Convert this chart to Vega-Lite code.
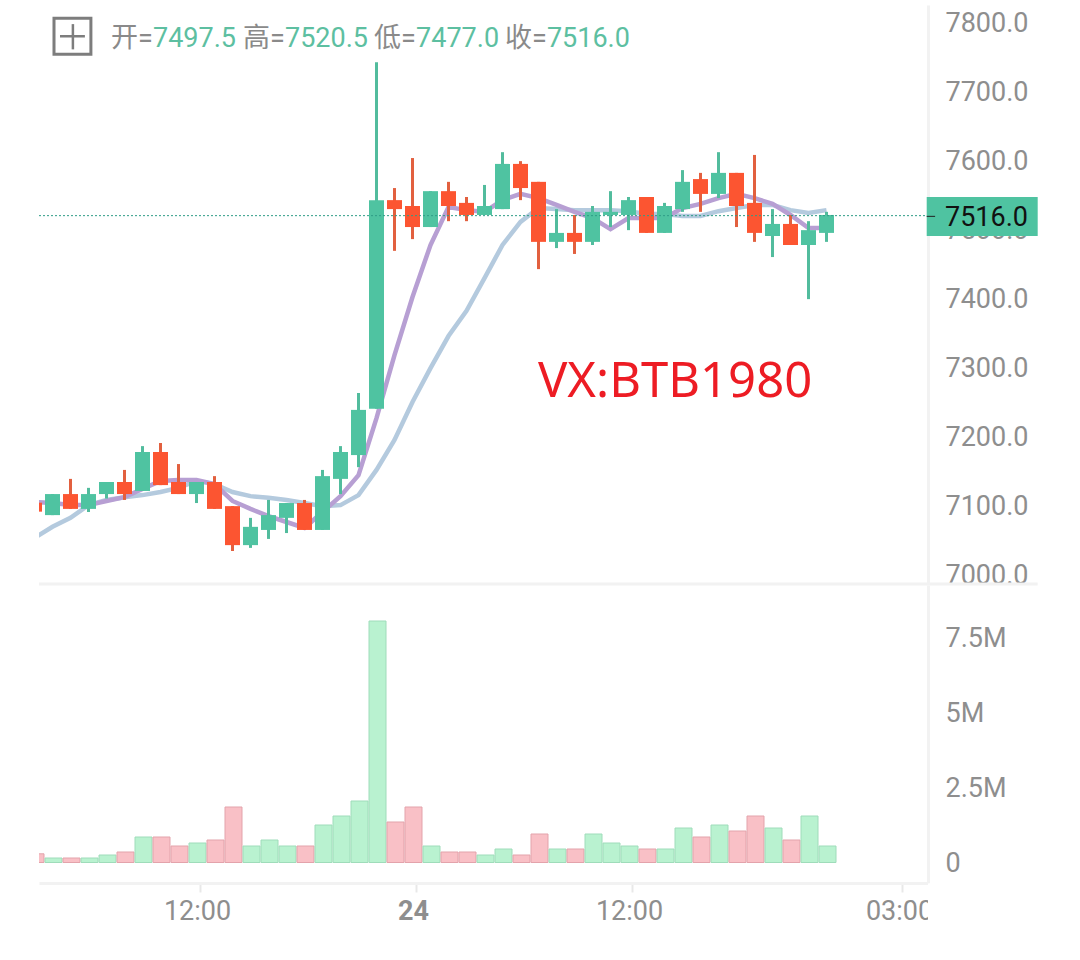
{
"$schema":"https://vega.github.io/schema/vega-lite/v6.json",
"background":"white",
"padding":{"left":37,"top":5,"right":0,"bottom":0},
"spacing":1,
"bounds":"flush",
"config":{"view":{"stroke":null},"axis":{"grid":false,"labelFont":"Roboto","labelFontSize":27,"labelColor":"#8e8e8e","title":null,"domainColor":"#f2f2f2","domainWidth":3}},
"datasets":{
"bars":[
{"t":"2020-03-23T03:00:00Z","dir":"down","open":7099,"high":7099,"low":7086,"close":7086,"ma1":7100,"ma2":7048,"vol":290000},
{"t":"2020-03-23T04:00:00Z","dir":"up","open":7081,"high":7111.5,"low":7081,"close":7111.5,"ma1":7098.5,"ma2":7064,"vol":150000},
{"t":"2020-03-23T05:00:00Z","dir":"down","open":7111.5,"high":7133.5,"low":7090,"close":7090,"ma1":7095.5,"ma2":7077,"vol":150000},
{"t":"2020-03-23T06:00:00Z","dir":"up","open":7090,"high":7120.5,"low":7085.5,"close":7111.5,"ma1":7095.5,"ma2":7095.5,"vol":150000},
{"t":"2020-03-23T07:00:00Z","dir":"up","open":7111.5,"high":7129,"low":7105,"close":7129,"ma1":7101.5,"ma2":7103,"vol":250000},
{"t":"2020-03-23T08:00:00Z","dir":"down","open":7129,"high":7146.5,"low":7103,"close":7111.5,"ma1":7107,"ma2":7107,"vol":350000},
{"t":"2020-03-23T09:00:00Z","dir":"up","open":7116,"high":7181,"low":7116,"close":7172.5,"ma1":7119,"ma2":7110,"vol":850000},
{"t":"2020-03-23T10:00:00Z","dir":"down","open":7172.5,"high":7185.5,"low":7124.5,"close":7124.5,"ma1":7130.5,"ma2":7114.5,"vol":850000},
{"t":"2020-03-23T11:00:00Z","dir":"down","open":7129,"high":7155,"low":7111.5,"close":7111.5,"ma1":7132,"ma2":7120.5,"vol":550000},
{"t":"2020-03-23T12:00:00Z","dir":"up","open":7111.5,"high":7129,"low":7098.5,"close":7129,"ma1":7132,"ma2":7130.5,"vol":650000},
{"t":"2020-03-23T13:00:00Z","dir":"down","open":7129,"high":7137.5,"low":7090,"close":7090,"ma1":7126,"ma2":7126,"vol":750000},
{"t":"2020-03-23T14:00:00Z","dir":"down","open":7094,"high":7094,"low":7029,"close":7037.5,"ma1":7101.5,"ma2":7114.5,"vol":1850000},
{"t":"2020-03-23T15:00:00Z","dir":"up","open":7037.5,"high":7077,"low":7033.5,"close":7064,"ma1":7090,"ma2":7108.5,"vol":550000},
{"t":"2020-03-23T16:00:00Z","dir":"up","open":7059.5,"high":7103,"low":7046.5,"close":7081,"ma1":7079.5,"ma2":7106,"vol":750000},
{"t":"2020-03-23T17:00:00Z","dir":"up","open":7077,"high":7098.5,"low":7055,"close":7098.5,"ma1":7071,"ma2":7103,"vol":550000},
{"t":"2020-03-23T18:00:00Z","dir":"down","open":7098.5,"high":7103,"low":7059.5,"close":7059.5,"ma1":7062.5,"ma2":7098.5,"vol":550000},
{"t":"2020-03-23T19:00:00Z","dir":"up","open":7059.5,"high":7146.5,"low":7059.5,"close":7137.5,"ma1":7085.5,"ma2":7094,"vol":1250000},
{"t":"2020-03-23T20:00:00Z","dir":"up","open":7133.5,"high":7181,"low":7111.5,"close":7172.5,"ma1":7108.5,"ma2":7095.5,"vol":1550000},
{"t":"2020-03-23T21:00:00Z","dir":"up","open":7168,"high":7258,"low":7150.5,"close":7233.5,"ma1":7139,"ma2":7110,"vol":2050000},
{"t":"2020-03-23T22:00:00Z","dir":"up","open":7235,"high":7737.5,"low":7235,"close":7537.5,"ma1":7221.5,"ma2":7146.5,"vol":8050000},
{"t":"2020-03-23T23:00:00Z","dir":"down","open":7537.5,"high":7555,"low":7464,"close":7524.5,"ma1":7313,"ma2":7190,"vol":1350000},
{"t":"2020-03-24T00:00:00Z","dir":"down","open":7529,"high":7598.5,"low":7481,"close":7498.5,"ma1":7397,"ma2":7245,"vol":1850000},
{"t":"2020-03-24T01:00:00Z","dir":"up","open":7498.5,"high":7550.5,"low":7498.5,"close":7550.5,"ma1":7472.5,"ma2":7294,"vol":550000},
{"t":"2020-03-24T02:00:00Z","dir":"down","open":7550.5,"high":7564,"low":7507,"close":7529,"ma1":7527.5,"ma2":7340.5,"vol":350000},
{"t":"2020-03-24T03:00:00Z","dir":"down","open":7533.5,"high":7542,"low":7507,"close":7516,"ma1":7523,"ma2":7377,"vol":350000},
{"t":"2020-03-24T04:00:00Z","dir":"up","open":7516,"high":7559.5,"low":7516,"close":7529,"ma1":7520.5,"ma2":7424.5,"vol":250000},
{"t":"2020-03-24T05:00:00Z","dir":"up","open":7524.5,"high":7607,"low":7524.5,"close":7590,"ma1":7537.5,"ma2":7472.5,"vol":450000},
{"t":"2020-03-24T06:00:00Z","dir":"down","open":7590,"high":7594,"low":7537.5,"close":7555,"ma1":7546.5,"ma2":7506,"vol":250000},
{"t":"2020-03-24T07:00:00Z","dir":"down","open":7564,"high":7564,"low":7437.5,"close":7477,"ma1":7540.5,"ma2":7526,"vol":950000},
{"t":"2020-03-24T08:00:00Z","dir":"up","open":7477,"high":7524.5,"low":7468,"close":7490,"ma1":7530.5,"ma2":7524.5,"vol":450000},
{"t":"2020-03-24T09:00:00Z","dir":"down","open":7490,"high":7516,"low":7459.5,"close":7477,"ma1":7520.5,"ma2":7523,"vol":450000},
{"t":"2020-03-24T10:00:00Z","dir":"up","open":7477,"high":7529,"low":7472.5,"close":7520.5,"ma1":7511.5,"ma2":7523,"vol":950000},
{"t":"2020-03-24T11:00:00Z","dir":"up","open":7516,"high":7550.5,"low":7498.5,"close":7520.5,"ma1":7495.5,"ma2":7523,"vol":650000},
{"t":"2020-03-24T12:00:00Z","dir":"up","open":7516,"high":7542,"low":7494,"close":7537.5,"ma1":7511.5,"ma2":7521.5,"vol":550000},
{"t":"2020-03-24T13:00:00Z","dir":"down","open":7542,"high":7542,"low":7490,"close":7490,"ma1":7511.5,"ma2":7517.5,"vol":450000},
{"t":"2020-03-24T14:00:00Z","dir":"up","open":7490,"high":7533.5,"low":7490,"close":7529,"ma1":7511.5,"ma2":7517.5,"vol":450000},
{"t":"2020-03-24T15:00:00Z","dir":"up","open":7524.5,"high":7581,"low":7520.5,"close":7564,"ma1":7526,"ma2":7514.5,"vol":1150000},
{"t":"2020-03-24T16:00:00Z","dir":"down","open":7568,"high":7577,"low":7520.5,"close":7546.5,"ma1":7532,"ma2":7514.5,"vol":850000},
{"t":"2020-03-24T17:00:00Z","dir":"up","open":7546.5,"high":7607,"low":7540.5,"close":7577,"ma1":7540.5,"ma2":7521.5,"vol":1250000},
{"t":"2020-03-24T18:00:00Z","dir":"down","open":7577,"high":7577,"low":7498.5,"close":7529,"ma1":7546.5,"ma2":7526,"vol":1050000},
{"t":"2020-03-24T19:00:00Z","dir":"down","open":7533.5,"high":7603,"low":7477,"close":7490,"ma1":7540.5,"ma2":7530.5,"vol":1550000},
{"t":"2020-03-24T20:00:00Z","dir":"up","open":7485.5,"high":7524.5,"low":7455,"close":7503,"ma1":7532,"ma2":7530.5,"vol":1150000},
{"t":"2020-03-24T21:00:00Z","dir":"down","open":7503,"high":7516,"low":7472.5,"close":7472.5,"ma1":7516,"ma2":7523,"vol":750000},
{"t":"2020-03-24T22:00:00Z","dir":"up","open":7472.5,"high":7507,"low":7394,"close":7494,"ma1":7497,"ma2":7519,"vol":1550000},
{"t":"2020-03-24T23:00:00Z","dir":"up","open":7490,"high":7520.5,"low":7477,"close":7516,"ma1":7497,"ma2":7523,"vol":550000}
],
"head":[
{"t":"2020-03-23T07:15:00Z","p":7771,"label":"开=","kind":"key"},
{"t":"2020-03-23T09:35:00Z","p":7771,"label":"7497.5","kind":"val"},
{"t":"2020-03-23T14:35:00Z","p":7771,"label":"高=","kind":"key"},
{"t":"2020-03-23T16:55:00Z","p":7771,"label":"7520.5","kind":"val"},
{"t":"2020-03-23T21:52:00Z","p":7771,"label":"低=","kind":"key"},
{"t":"2020-03-24T00:12:00Z","p":7771,"label":"7477.0","kind":"val"},
{"t":"2020-03-24T05:08:00Z","p":7771,"label":"收=","kind":"key"},
{"t":"2020-03-24T07:28:00Z","p":7771,"label":"7516.0","kind":"val"}
]
},
"vconcat":[
{"width":889,"height":579,
"encoding":{"x":{"field":"t","type":"temporal","axis":null,"scale":{"type":"utc","domain":["2020-03-23T03:15:00Z","2020-03-25T04:38:20Z"],"nice":false,"padding":0}}},
"layer":[
{"data":{"name":"bars"},"mark":{"type":"line","clip":true,"strokeWidth":4.5,"color":"#b4cade"},
 "encoding":{"y":{"field":"ma2","type":"quantitative","scale":{"domain":[6981.16,7820.3],"nice":false,"zero":false},"axis":{"orient":"right","values":[7000,7100,7200,7300,7400,7500,7600,7700,7800],"format":".1f","tickSize":0,"labelPadding":17,"labelOffset":4}}}},
{"data":{"name":"bars"},"mark":{"type":"line","clip":true,"strokeWidth":4.5,"color":"#b79fd3"},
 "encoding":{"y":{"field":"ma1","type":"quantitative","scale":{"domain":[6981.16,7820.3],"nice":false,"zero":false}}}},
{"data":{"name":"bars"},"mark":{"type":"rule","clip":true,"strokeWidth":3},
 "encoding":{"y":{"field":"high","type":"quantitative","scale":{"domain":[6981.16,7820.3],"nice":false,"zero":false}},"y2":{"field":"low"},
 "color":{"condition":{"test":"datum.dir==='up'","value":"#52bc9d"},"value":"#e2603f"}}},
{"data":{"name":"bars"},"mark":{"type":"bar","clip":true,"width":15},
 "encoding":{"y":{"field":"open","type":"quantitative","scale":{"domain":[6981.16,7820.3],"nice":false,"zero":false}},"y2":{"field":"close"},
 "color":{"condition":{"test":"datum.dir==='up'","value":"#4fc3a1"},"value":"#fc5531"}}},
{"data":{"values":[{"t":"2020-03-23T03:15:00Z","t1":"2020-03-25T04:34:00Z","p":7515}]},"mark":{"type":"rule","strokeWidth":1,"strokeDash":[2,2],"color":"#2f9c86"},
 "encoding":{"x2":{"field":"t1"},"y":{"field":"p","type":"quantitative","scale":{"domain":[6981.16,7820.3],"nice":false,"zero":false}}}},
{"data":{"values":[{"t":"2020-03-25T04:34:00Z","t1":"2020-03-25T10:44:00Z","top":7542,"bottom":7485.5}]},"mark":{"type":"rect","color":"#4fc3a1"},
 "encoding":{"x2":{"field":"t1"},"y":{"field":"top","type":"quantitative","scale":{"domain":[6981.16,7820.3],"nice":false,"zero":false}},"y2":{"field":"bottom"}}},
{"data":{"values":[{"t":"2020-03-25T04:34:00Z","t1":"2020-03-25T05:02:00Z","p":7514}]},"mark":{"type":"rule","strokeWidth":1,"color":"#222222"},
 "encoding":{"x2":{"field":"t1"},"y":{"field":"p","type":"quantitative","scale":{"domain":[6981.16,7820.3],"nice":false,"zero":false}}}},
{"data":{"values":[{"t":"2020-03-25T05:35:00Z","p":7512,"label":"7516.0"}]},"mark":{"type":"text","align":"left","baseline":"middle","font":"Roboto","fontSize":27,"color":"#111111"},
 "encoding":{"text":{"field":"label"},"y":{"field":"p","type":"quantitative","scale":{"domain":[6981.16,7820.3],"nice":false,"zero":false}}}},
{"data":{"values":[{"t":"2020-03-23T03:15:00Z","t1":"2020-03-25T10:44:00Z","p":6981.16}]},"mark":{"type":"rule","strokeWidth":3,"color":"#f2f2f2"},
 "encoding":{"x2":{"field":"t1"},"y":{"field":"p","type":"quantitative","scale":{"domain":[6981.16,7820.3],"nice":false,"zero":false}}}},
{"data":{"name":"head"},"mark":{"type":"text","align":"left","baseline":"middle","font":"Roboto, Noto Sans CJK SC","fontSize":27},
 "encoding":{"text":{"field":"label"},"y":{"field":"p","type":"quantitative","scale":{"domain":[6981.16,7820.3],"nice":false,"zero":false}},
 "color":{"condition":{"test":"datum.kind==='val'","value":"#5dbfa1"},"value":"#8a8a8a"}}},
{"data":{"values":[{"t":"2020-03-23T04:05:00Z","t1":"2020-03-23T06:08:00Z","top":7801,"bottom":7749}]},"mark":{"type":"rect","fillOpacity":0,"stroke":"#7d7d7d","strokeWidth":3},
 "encoding":{"x2":{"field":"t1"},"y":{"field":"top","type":"quantitative","scale":{"domain":[6981.16,7820.3],"nice":false,"zero":false}},"y2":{"field":"bottom"}}},
{"data":{"values":[{"t":"2020-03-23T04:25:00Z","t1":"2020-03-23T05:48:00Z","p":7775}]},"mark":{"type":"rule","strokeWidth":2.5,"color":"#7d7d7d"},
 "encoding":{"x2":{"field":"t1"},"y":{"field":"p","type":"quantitative","scale":{"domain":[6981.16,7820.3],"nice":false,"zero":false}}}},
{"data":{"values":[{"t":"2020-03-23T05:08:00Z","top":7792.6,"bottom":7756}]},"mark":{"type":"rule","strokeWidth":2.5,"color":"#7d7d7d"},
 "encoding":{"y":{"field":"top","type":"quantitative","scale":{"domain":[6981.16,7820.3],"nice":false,"zero":false}},"y2":{"field":"bottom"}}},
{"data":{"values":[{"t":"2020-03-24T06:58:00Z","p":7274,"label":"VX:BTB1980"}]},"mark":{"type":"text","align":"left","baseline":"middle","font":"Noto Sans","fontSize":49,"color":"#ed1c24"},
 "encoding":{"text":{"field":"label"},"y":{"field":"p","type":"quantitative","scale":{"domain":[6981.16,7820.3],"nice":false,"zero":false}}}}
]},
{"width":889,"height":298,
"encoding":{"x":{"field":"t","type":"temporal","scale":{"type":"utc","domain":["2020-03-23T03:15:00Z","2020-03-25T04:38:20Z"],"nice":false,"padding":0},
 "axis":{"orient":"bottom","values":[1584964800000,1585008000000,1585051200000,1585105200000],"tickColor":"#e8e8e8","tickWidth":2,"tickSize":9,"tickOffset":3.5,"labelOffset":-3,"labelPadding":6,"labelOverlap":false,"labelBound":false,"labelFlush":false,
 "labelExpr":"utchours(datum.value)===0?'24':utcFormat(datum.value,'%H:%M')",
 "labelFontWeight":{"condition":{"test":"utchours(datum.value)===0","value":"bold"},"value":"normal"}}}},
"layer":[
{"data":{"name":"bars"},"mark":{"type":"bar","clip":true,"width":17,"strokeWidth":1,"xOffset":1},
 "encoding":{"y":{"field":"vol","type":"quantitative","stack":null,"scale":{"domain":[-683000,9250000],"nice":false,"zero":false},
 "axis":{"orient":"right","values":[0,2500000,5000000,7500000],"tickSize":0,"labelPadding":17,"labelOffset":1,"labelExpr":"datum.value===0?'0':(datum.value/1000000)+'M'"}},
 "fill":{"condition":{"test":"datum.dir==='up'","value":"#b9f2d0"},"value":"#f9c0c6"},
 "stroke":{"condition":{"test":"datum.dir==='up'","value":"#9fdcba"},"value":"#e3a3ab"}}},
{"data":{"values":[{"t":"2020-03-25T04:38:20Z","t1":"2020-03-25T10:44:00Z","top":-700000,"bottom":-2100000}]},"mark":{"type":"rect","color":"white"},
 "encoding":{"x2":{"field":"t1"},"y":{"field":"top","type":"quantitative","scale":{"domain":[-683000,9250000],"nice":false,"zero":false}},"y2":{"field":"bottom"}}}
]}
]
}
